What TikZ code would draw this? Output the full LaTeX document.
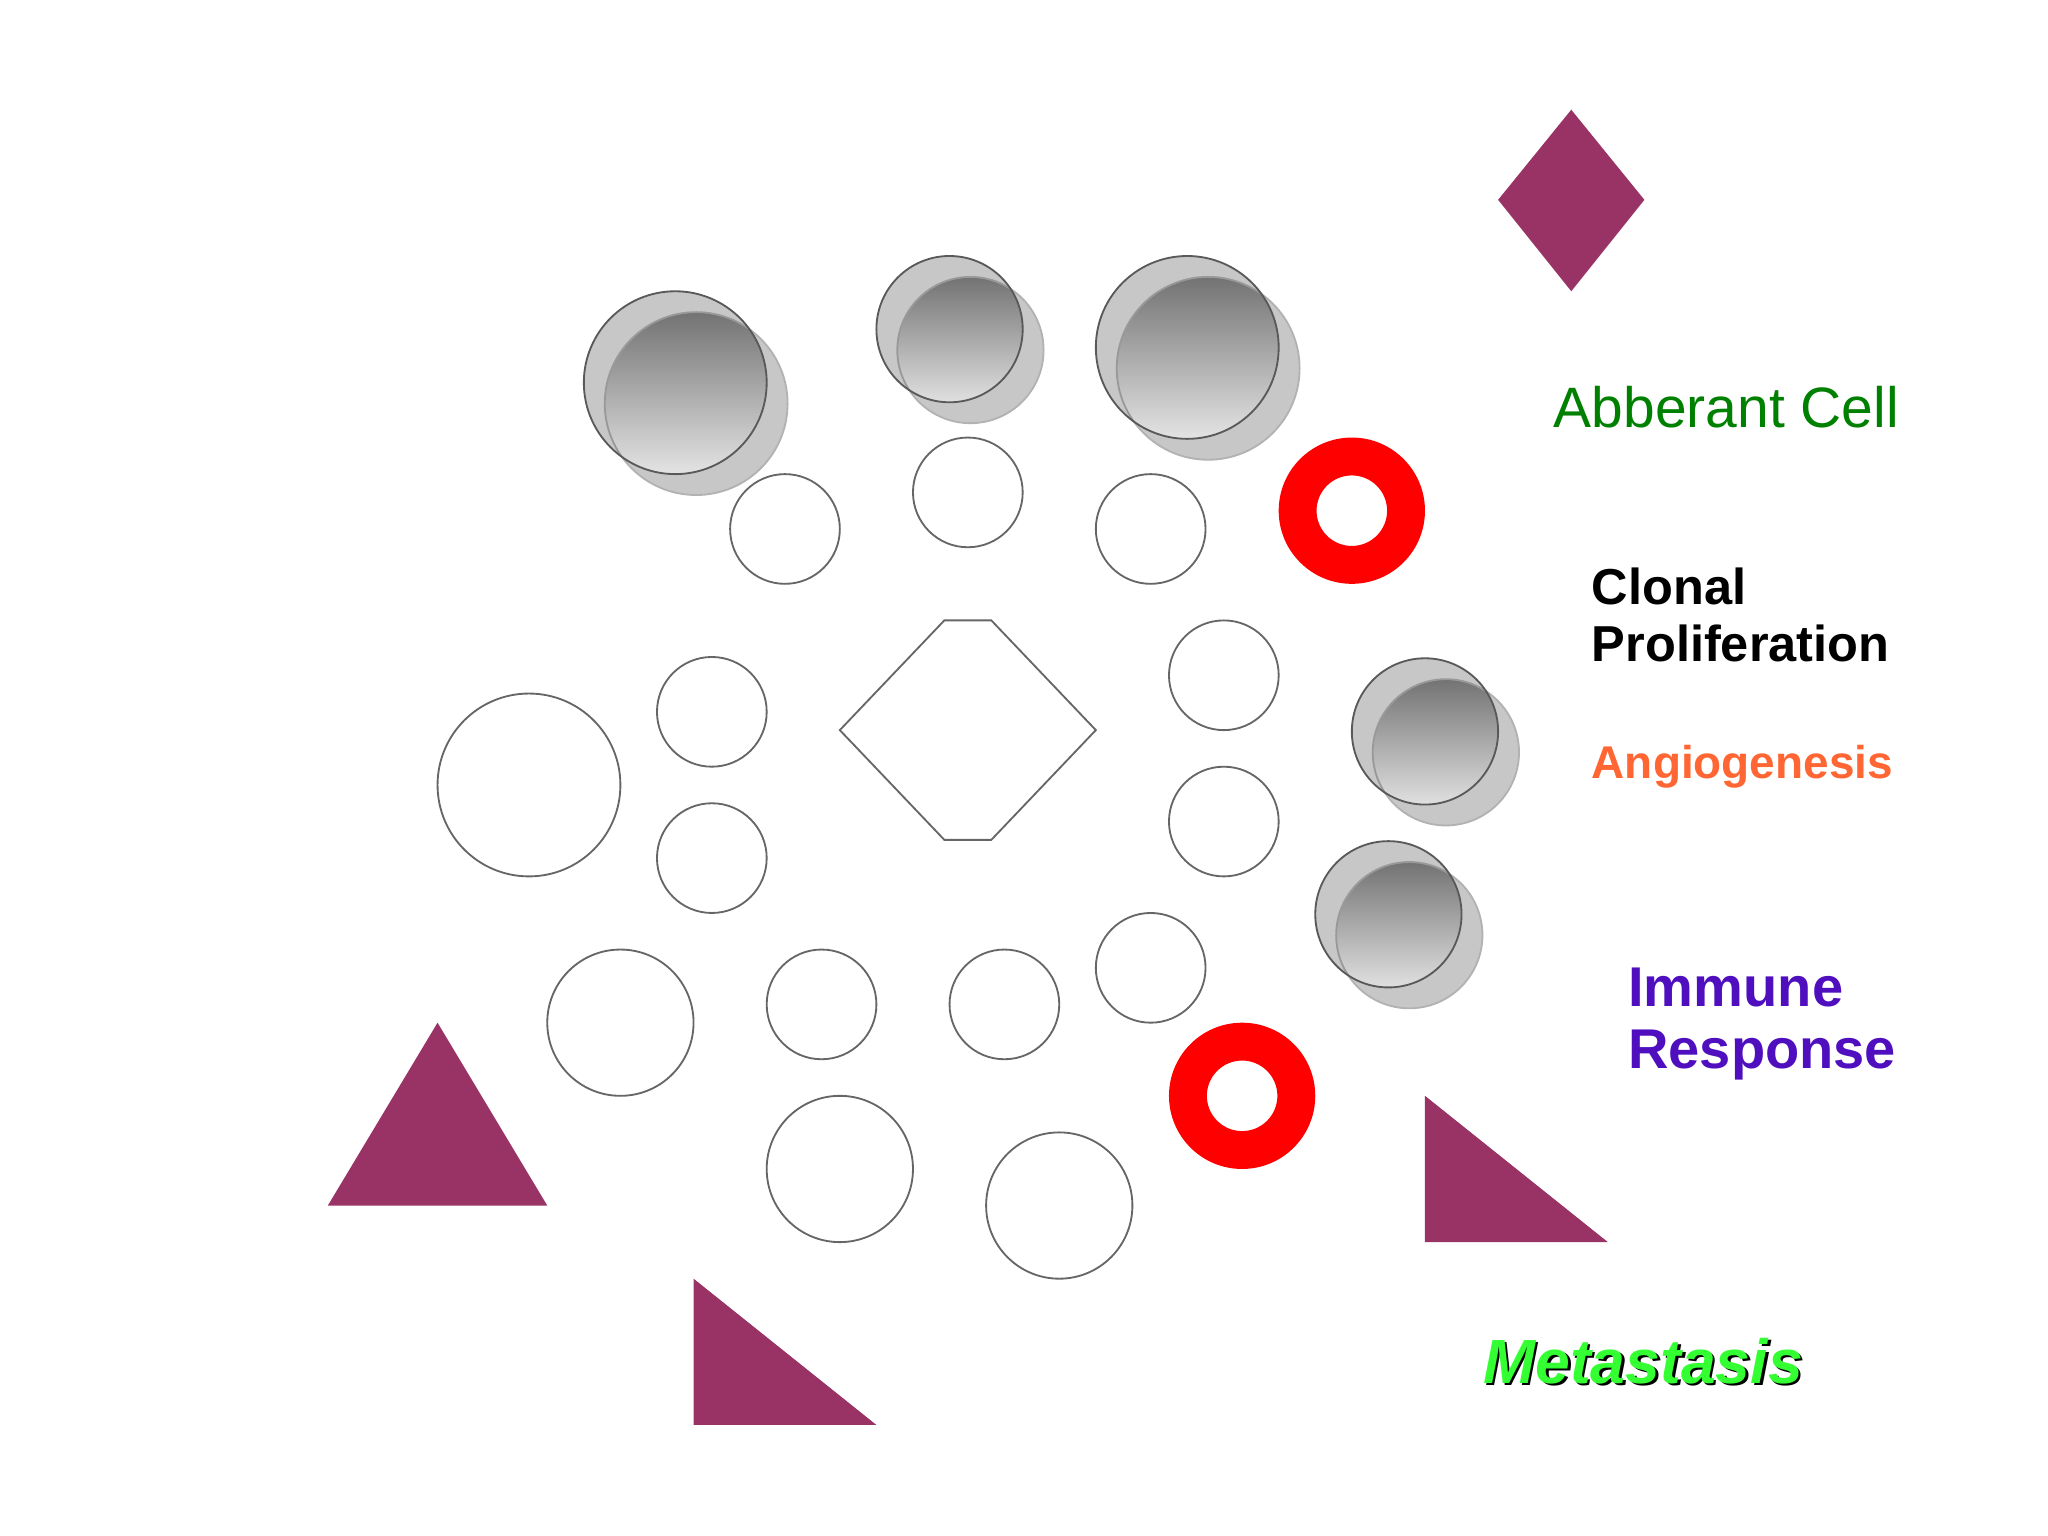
\documentclass[tikz,border=0pt]{standalone}
\usepackage{fontspec}
\setmainfont{Liberation Sans}
\usetikzlibrary{shapes.geometric}
\definecolor{plum}{HTML}{993366}
\definecolor{ab}{HTML}{008000}
\definecolor{ang}{HTML}{FF6633}
\definecolor{imm}{HTML}{4F0FBF}
\definecolor{meta}{HTML}{33FF33}
\tikzset{
 cell/.style={draw=black!60,line width=0.4pt},
 sback/.style={fill=black!22,draw=black!30},
 sfront/.style={top color=black!55,bottom color=black!5},
 shapef/.style={fill=plum,draw=none},
 ring/.style={fill=red,draw=none,even odd rule},
 lbl/.style={anchor=west,align=left,inner sep=0pt}
}
\newcommand{\sphere}[3]{%
 \fill[sback] (#1+16,#2+16) circle (#3);
 \fill[black!22] (#1,#2) circle (#3);
 \begin{scope}
 \clip (#1,#2) circle (#3);
 \fill[sfront] (#1+16,#2+16) circle (#3);
 \draw[black!40] (#1+16,#2+16) circle (#3);
 \end{scope}
 \draw[black!65] (#1,#2) circle (#3);}
\begin{document}
\begin{tikzpicture}[x=0.01cm,y=-0.01cm]
\useasboundingbox (0,0) rectangle (1568,1176);
\fill[shapef] (1203,84) -- (1259,153) -- (1203,223) -- (1147,153) -- cycle;
\sphere{517}{293}{70}
\sphere{727}{252}{56}
\sphere{909}{266}{70}
\sphere{1091}{560}{56}
\sphere{1063}{700}{56}
\fill[ring] (1035,391) circle (56) (1035,391) circle (27);
\fill[ring] (951,839) circle (56) (951,839) circle (27);
\foreach \p in {(601,405),(741,377),(881,405),(937,517),(545,545),(937,629),(545,657),(881,741),(629,769),(769,769)}
  \draw[cell] \p circle (42);
\foreach \p in {(475,783),(643,895),(811,923)}
  \draw[cell] \p circle (56);
\draw[cell] (405,601) circle (70);
\draw[cell] (643,559) -- (723,475) -- (759,475) -- (839,559) -- (759,643) -- (723,643) -- cycle;
\fill[shapef] (251,923) -- (419,923) -- (335,783) -- cycle;
\fill[shapef] (1091,839) -- (1091,951) -- (1231,951) -- cycle;
\fill[shapef] (531,979) -- (531,1091) -- (671,1091) -- cycle;
\node[lbl,text=ab,font=\fontsize{12.4}{15}\selectfont] (abc) at (1189,312) {Abberant Cell};
\node[lbl,font=\bfseries\fontsize{11}{12.5}\selectfont] (clo) at (1218,471) {Clonal\\Proliferation};
\node[lbl,text=ang,font=\bfseries\fontsize{10}{12}\selectfont] (ang) at (1218,587) {Angiogenesis};
\node[lbl,text=imm,font=\bfseries\fontsize{12.2}{13.6}\selectfont] (imm) at (1246,784) {Immune\\Response};
\node[lbl,text=black,font=\bfseries\itshape\fontsize{13.6}{15}\selectfont] (mets) at (1137,1044) {Metastasis};
\node[lbl,text=meta,font=\bfseries\itshape\fontsize{13.6}{15}\selectfont] (met) at (1135,1042) {Metastasis};
\end{tikzpicture}
\end{document}
